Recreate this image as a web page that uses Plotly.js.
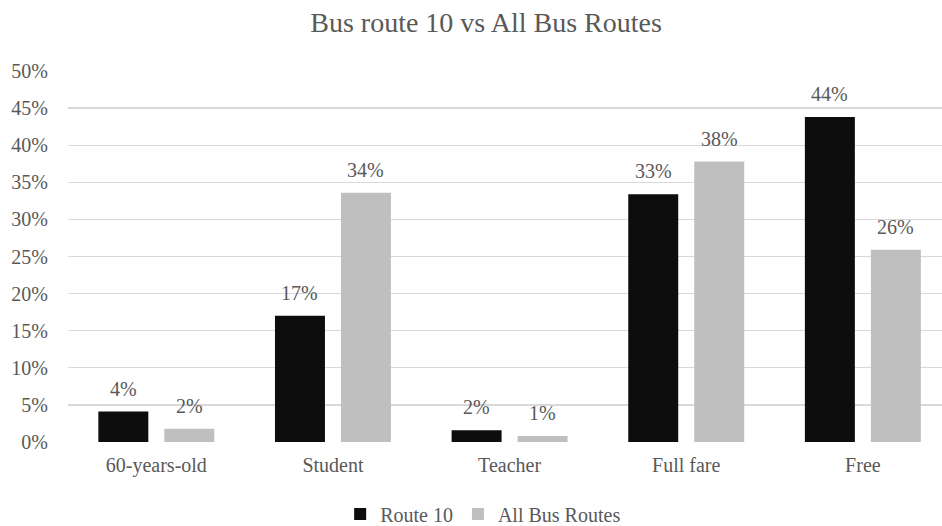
<!DOCTYPE html>
<html>
<head>
<meta charset="utf-8">
<script src="https://cdn.plot.ly/plotly-3.0.1.min.js"></script>
<style>
  html, body { margin: 0; padding: 0; background: #ffffff; }
  #chart { width: 942px; height: 526px; }
</style>
</head>
<body>
<div id="chart"></div>
<script>
// Passenger categories and their share of riders
const categories = ['60-years-old', 'Student', 'Teacher', 'Full fare', 'Free'];
const route10 = [0.041, 0.170, 0.016, 0.334, 0.438];
const allRoutes = [0.018, 0.336, 0.008, 0.378, 0.259];
const seriesNames = ['Route 10', 'All Bus Routes'];
const yTickVals = [0, 0.05, 0.10, 0.15, 0.20, 0.25, 0.30, 0.35, 0.40, 0.45, 0.50];

const FONT = 'Liberation Serif, Times New Roman, serif';
const TEXT = '#595959';

const traces = [
  { type: 'bar', name: seriesNames[0], x: categories, y: route10,
    marker: { color: '#0d0d0d' }, hoverinfo: 'skip' },
  { type: 'bar', name: seriesNames[1], x: categories, y: allRoutes,
    marker: { color: '#bfbfbf' }, hoverinfo: 'skip' }
];

// value labels above each bar, offset to its slot within the group
const fmt = v => Math.round(v * 100) + '%';
const annotations = [];
[route10, allRoutes].forEach((vals, s) => {
  vals.forEach((v, i) => {
    annotations.push({
      x: categories[i], y: v, xref: 'x', yref: 'y',
      text: fmt(v), showarrow: false,
      xanchor: 'center', yanchor: 'bottom',
      xshift: s === 0 ? -33 : 33, yshift: 10,
      font: { family: FONT, size: 20, color: TEXT }
    });
  });
});

const layout = {
  width: 942, height: 526,
  paper_bgcolor: '#ffffff', plot_bgcolor: '#ffffff',
  margin: { l: 68, r: 0, t: 71, b: 84, autoexpand: false },
  font: { family: FONT, size: 20, color: TEXT },
  title: {
    text: 'Bus route 10 vs All Bus Routes',
    font: { family: FONT, size: 28, color: TEXT },
    xref: 'container', x: 0.516, xanchor: 'center',
    yref: 'container', y: 0.957, yanchor: 'middle'
  },
  barmode: 'group', bargap: 0.253, bargroupgap: 0.2424,
  xaxis: {
    type: 'category', range: [-0.5, 4.448],
    showgrid: false, zeroline: false, showline: false,
    ticks: '', ticklabelstandoff: 9,
    tickfont: { family: FONT, size: 20, color: TEXT },
    fixedrange: true
  },
  yaxis: {
    range: [0, 0.5], tickvals: yTickVals, tickformat: '.0%',
    showgrid: true, gridcolor: '#d9d9d9', gridwidth: 1.3,
    zeroline: false, showline: false, ticks: '',
    ticklabelstandoff: 19,
    tickfont: { family: FONT, size: 20, color: TEXT },
    fixedrange: true
  },
  showlegend: true,
  legend: {
    orientation: 'h', xref: 'paper', x: 0.475, xanchor: 'center',
    y: -0.194, yanchor: 'middle',
    font: { family: FONT, size: 20, color: TEXT },
    bgcolor: 'rgba(0,0,0,0)', traceorder: 'normal'
  },
  annotations: annotations
};

Plotly.newPlot('chart', traces, layout, { staticPlot: true, displayModeBar: false });
</script>
</body>
</html>
